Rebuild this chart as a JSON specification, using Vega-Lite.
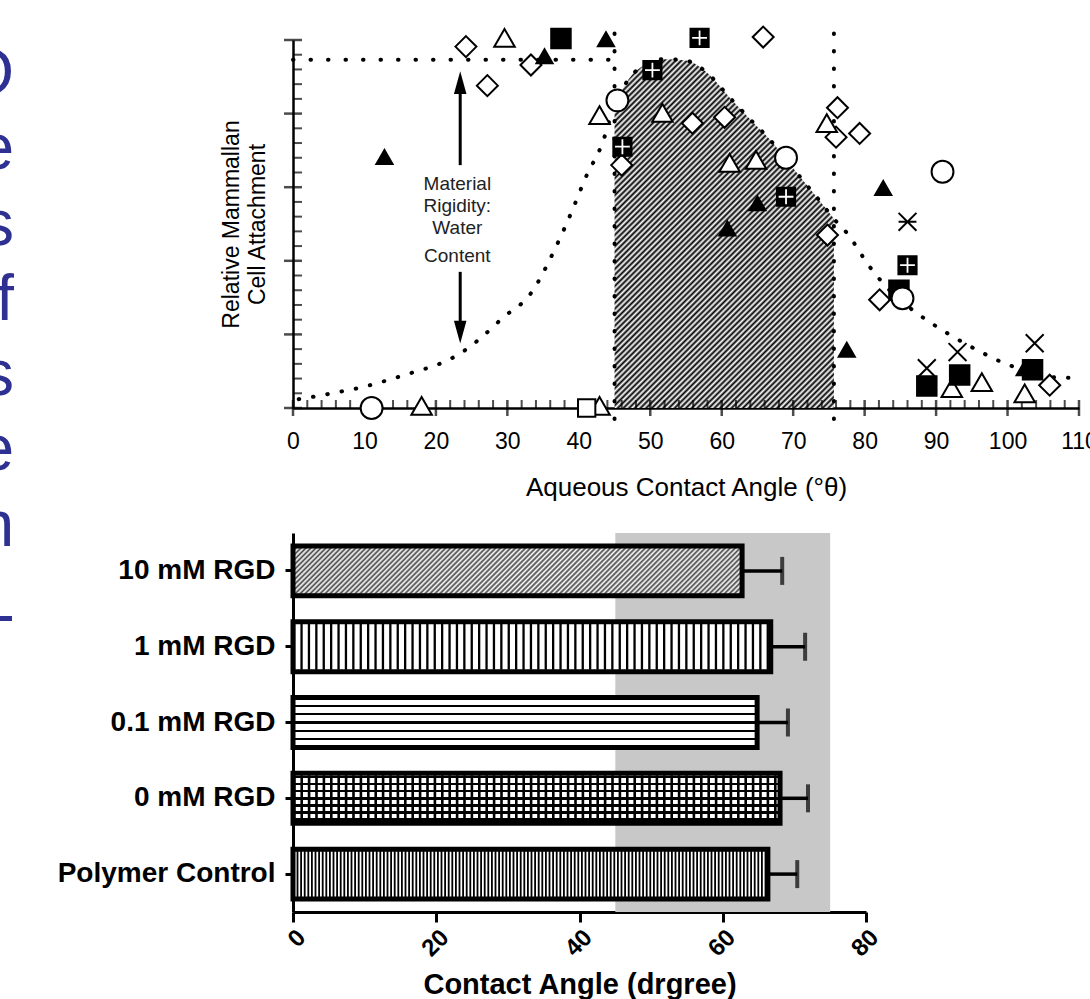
{
"$schema":"https://vega.github.io/schema/vega-lite/v6.json",
"background":"white",
"padding":{"left":0,"top":20,"right":0,"bottom":0},
"config":{"view":{"stroke":null},"font":"Liberation Sans","axis":{"domainColor":"#000","tickColor":"#000","labelColor":"#000","titleColor":"#000","grid":false}},
"datasets":{
"letters":[{"row":1,"ch":"O"},{"row":2,"ch":"e"},{"row":3,"ch":"s"},{"row":4,"ch":"f"},{"row":5,"ch":"s"},{"row":6,"ch":"e"},{"row":7,"ch":"n"},{"row":8,"ch":"L"}],
"curve":[{"x":0.8,"y":0.12},{"x":2.7,"y":0.15},{"x":6,"y":0.21},{"x":10,"y":0.29},{"x":14,"y":0.4},{"x":17,"y":0.49},{"x":20.5,"y":0.6},{"x":23.7,"y":0.76},{"x":26.5,"y":0.97},{"x":29.3,"y":1.22},{"x":33.3,"y":1.56},{"x":36.8,"y":2.19},{"x":39.1,"y":2.69},{"x":41,"y":3.14},{"x":43.3,"y":3.6},{"x":45,"y":4.12},{"x":47,"y":4.47},{"x":49,"y":4.65},{"x":52,"y":4.74},{"x":55,"y":4.72},{"x":58,"y":4.55},{"x":61,"y":4.23},{"x":64,"y":3.92},{"x":66.7,"y":3.65},{"x":69,"y":3.38},{"x":71.3,"y":3.1},{"x":73.5,"y":2.84},{"x":75.7,"y":2.57},{"x":77.5,"y":2.38},{"x":80.7,"y":1.92},{"x":84,"y":1.55},{"x":87.3,"y":1.29},{"x":91.5,"y":1.02},{"x":95.7,"y":0.79},{"x":100.3,"y":0.58},{"x":104,"y":0.48},{"x":107.3,"y":0.41},{"x":110,"y":0.41}],
"refs":[{"x":0,"x2":45,"y":4.73,"y2":4.73},{"x":45,"x2":45,"y":-0.15,"y2":5.24},{"x":75.7,"x2":75.7,"y":-0.15,"y2":5.24}],
"arrows":[{"x":23.4,"y":4.4,"y2":3.3},{"x":23.4,"y":1.85,"y2":1.05}],
"headsup":[{"x":23.4,"y":4.42}],
"headsdown":[{"x":23.4,"y":1.03}],
"notes":[{"x":23.0,"y":3.04,"t":"Material"},{"x":23.0,"y":2.74,"t":"Rigidity:"},{"x":23.0,"y":2.44,"t":"Water"},{"x":23.0,"y":2.07,"t":"Content"}],
"xmaj":[{"v":0},{"v":10},{"v":20},{"v":30},{"v":40},{"v":50},{"v":60},{"v":70},{"v":80},{"v":90},{"v":100},{"v":110}],
"xmin":[{"v":2},{"v":4},{"v":6},{"v":8},{"v":12},{"v":14},{"v":16},{"v":18},{"v":22},{"v":24},{"v":26},{"v":28},{"v":32},{"v":34},{"v":36},{"v":38},{"v":42},{"v":44},{"v":46},{"v":48},{"v":52},{"v":54},{"v":56},{"v":58},{"v":62},{"v":64},{"v":66},{"v":68},{"v":72},{"v":74},{"v":76},{"v":78},{"v":82},{"v":84},{"v":86},{"v":88},{"v":92},{"v":94},{"v":96},{"v":98},{"v":102},{"v":104},{"v":106},{"v":108}],
"ymaj":[{"v":0},{"v":1},{"v":2},{"v":3},{"v":4},{"v":5}],
"ymin":[{"v":0.2},{"v":0.4},{"v":0.6},{"v":0.8},{"v":1.2},{"v":1.4},{"v":1.6},{"v":1.8},{"v":2.2},{"v":2.4},{"v":2.6},{"v":2.8},{"v":3.2},{"v":3.4},{"v":3.6},{"v":3.8},{"v":4.2},{"v":4.4},{"v":4.6},{"v":4.8}],
"pts":[
{"x":24.2,"y":4.91,"s":"open diamond"},{"x":33.3,"y":4.66,"s":"open diamond"},{"x":27.2,"y":4.38,"s":"open diamond"},{"x":55.9,"y":3.87,"s":"open diamond"},{"x":60.4,"y":3.95,"s":"open diamond"},{"x":65.8,"y":5.04,"s":"open diamond"},{"x":76.2,"y":4.08,"s":"open diamond"},{"x":76.0,"y":3.68,"s":"open diamond"},{"x":79.3,"y":3.73,"s":"open diamond"},{"x":74.8,"y":2.35,"s":"open diamond"},{"x":82.1,"y":1.47,"s":"open diamond"},{"x":105.9,"y":0.31,"s":"open diamond"},{"x":46.0,"y":3.3,"s":"open diamond"},
{"x":29.6,"y":5.03,"s":"open triangle"},{"x":42.9,"y":3.98,"s":"open triangle"},{"x":51.7,"y":4.01,"s":"open triangle"},{"x":61.1,"y":3.33,"s":"open triangle"},{"x":64.8,"y":3.37,"s":"open triangle"},{"x":74.7,"y":3.87,"s":"open triangle"},{"x":92.2,"y":0.27,"s":"open triangle"},{"x":96.4,"y":0.35,"s":"open triangle"},{"x":102.4,"y":0.2,"s":"open triangle"},{"x":18.0,"y":0.03,"s":"open triangle"},{"x":42.9,"y":0.03,"s":"open triangle"},
{"x":35.2,"y":4.78,"s":"filled triangle"},{"x":43.8,"y":5.01,"s":"filled triangle"},{"x":12.8,"y":3.41,"s":"filled triangle"},{"x":65.0,"y":2.78,"s":"filled triangle"},{"x":60.8,"y":2.44,"s":"filled triangle"},{"x":82.6,"y":2.99,"s":"filled triangle"},{"x":77.5,"y":0.79,"s":"filled triangle"},{"x":102.4,"y":0.54,"s":"filled triangle"},
{"x":37.5,"y":5.02,"s":"filled square"},{"x":84.8,"y":1.6,"s":"filled square"},{"x":88.7,"y":0.3,"s":"filled square"},{"x":93.3,"y":0.45,"s":"filled square"},{"x":103.5,"y":0.52,"s":"filled square"},
{"x":56.9,"y":5.03,"s":"crossed square"},{"x":50.3,"y":4.59,"s":"crossed square"},{"x":46.1,"y":3.55,"s":"crossed square"},{"x":69.0,"y":2.87,"s":"crossed square"},{"x":86.0,"y":1.94,"s":"crossed square"},
{"x":11.0,"y":0.0,"s":"open circle"},{"x":90.9,"y":3.21,"s":"open circle"},{"x":45.4,"y":4.18,"s":"open circle"},{"x":69.0,"y":3.4,"s":"open circle"},{"x":85.3,"y":1.49,"s":"open circle"},
{"x":88.7,"y":0.54,"s":"x"},{"x":93.0,"y":0.76,"s":"x"},{"x":103.8,"y":0.88,"s":"x"},
{"x":86.0,"y":2.53,"s":"asterisk"},
{"x":41.1,"y":0.0,"s":"open square"}],
"bars":[{"group":"10 mM RGD","lo":0,"value":62.7,"hi":68.3},{"group":"1 mM RGD","lo":0,"value":66.7,"hi":71.5},{"group":"0.1 mM RGD","lo":0,"value":64.8,"hi":69.1},{"group":"0 mM RGD","lo":0,"value":68.0,"hi":71.9},{"group":"Polymer Control","lo":0,"value":66.3,"hi":70.4}],
"band":[{"lo":45,"hi":75}]
},
"spacing":43,
"hconcat":[
{
"width":14,"height":635,
"data":{"name":"letters"},
"mark":{"type":"text","align":"right","baseline":"alphabetic","fontSize":64,"color":"#2e3192","clip":true},
"encoding":{
"y":{"field":"row","type":"ordinal","scale":{"type":"point","padding":0.717},"axis":null},
"x":{"value":"width"},
"text":{"field":"ch"}
}
},
{
"spacing":33,
"vconcat":[
{
"width":786,"height":368,
"layer":[
{"data":{"name":"curve"},"transform":[{"filter":"datum.x >= 45 && datum.x <= 75.7"}],
"mark":{"type":"area","interpolate":"monotone","stroke":null,"fill":{"gradient":"linear","x1":0,"y1":0,"x2":0.733,"y2":1.168,"stops":[
{"offset":0,"color":"#000"},{"offset":0.005,"color":"#fff"},{"offset":0.01,"color":"#000"},{"offset":0.015,"color":"#fff"},{"offset":0.02,"color":"#000"},{"offset":0.025,"color":"#fff"},{"offset":0.03,"color":"#000"},{"offset":0.035,"color":"#fff"},{"offset":0.04,"color":"#000"},{"offset":0.045,"color":"#fff"},
{"offset":0.05,"color":"#000"},{"offset":0.055,"color":"#fff"},{"offset":0.06,"color":"#000"},{"offset":0.065,"color":"#fff"},{"offset":0.07,"color":"#000"},{"offset":0.075,"color":"#fff"},{"offset":0.08,"color":"#000"},{"offset":0.085,"color":"#fff"},{"offset":0.09,"color":"#000"},{"offset":0.095,"color":"#fff"},
{"offset":0.1,"color":"#000"},{"offset":0.105,"color":"#fff"},{"offset":0.11,"color":"#000"},{"offset":0.115,"color":"#fff"},{"offset":0.12,"color":"#000"},{"offset":0.125,"color":"#fff"},{"offset":0.13,"color":"#000"},{"offset":0.135,"color":"#fff"},{"offset":0.14,"color":"#000"},{"offset":0.145,"color":"#fff"},
{"offset":0.15,"color":"#000"},{"offset":0.155,"color":"#fff"},{"offset":0.16,"color":"#000"},{"offset":0.165,"color":"#fff"},{"offset":0.17,"color":"#000"},{"offset":0.175,"color":"#fff"},{"offset":0.18,"color":"#000"},{"offset":0.185,"color":"#fff"},{"offset":0.19,"color":"#000"},{"offset":0.195,"color":"#fff"},
{"offset":0.2,"color":"#000"},{"offset":0.205,"color":"#fff"},{"offset":0.21,"color":"#000"},{"offset":0.215,"color":"#fff"},{"offset":0.22,"color":"#000"},{"offset":0.225,"color":"#fff"},{"offset":0.23,"color":"#000"},{"offset":0.235,"color":"#fff"},{"offset":0.24,"color":"#000"},{"offset":0.245,"color":"#fff"},
{"offset":0.25,"color":"#000"},{"offset":0.255,"color":"#fff"},{"offset":0.26,"color":"#000"},{"offset":0.265,"color":"#fff"},{"offset":0.27,"color":"#000"},{"offset":0.275,"color":"#fff"},{"offset":0.28,"color":"#000"},{"offset":0.285,"color":"#fff"},{"offset":0.29,"color":"#000"},{"offset":0.295,"color":"#fff"},
{"offset":0.3,"color":"#000"},{"offset":0.305,"color":"#fff"},{"offset":0.31,"color":"#000"},{"offset":0.315,"color":"#fff"},{"offset":0.32,"color":"#000"},{"offset":0.325,"color":"#fff"},{"offset":0.33,"color":"#000"},{"offset":0.335,"color":"#fff"},{"offset":0.34,"color":"#000"},{"offset":0.345,"color":"#fff"},
{"offset":0.35,"color":"#000"},{"offset":0.355,"color":"#fff"},{"offset":0.36,"color":"#000"},{"offset":0.365,"color":"#fff"},{"offset":0.37,"color":"#000"},{"offset":0.375,"color":"#fff"},{"offset":0.38,"color":"#000"},{"offset":0.385,"color":"#fff"},{"offset":0.39,"color":"#000"},{"offset":0.395,"color":"#fff"},
{"offset":0.4,"color":"#000"},{"offset":0.405,"color":"#fff"},{"offset":0.41,"color":"#000"},{"offset":0.415,"color":"#fff"},{"offset":0.42,"color":"#000"},{"offset":0.425,"color":"#fff"},{"offset":0.43,"color":"#000"},{"offset":0.435,"color":"#fff"},{"offset":0.44,"color":"#000"},{"offset":0.445,"color":"#fff"},
{"offset":0.45,"color":"#000"},{"offset":0.455,"color":"#fff"},{"offset":0.46,"color":"#000"},{"offset":0.465,"color":"#fff"},{"offset":0.47,"color":"#000"},{"offset":0.475,"color":"#fff"},{"offset":0.48,"color":"#000"},{"offset":0.485,"color":"#fff"},{"offset":0.49,"color":"#000"},{"offset":0.495,"color":"#fff"},
{"offset":0.5,"color":"#000"},{"offset":0.505,"color":"#fff"},{"offset":0.51,"color":"#000"},{"offset":0.515,"color":"#fff"},{"offset":0.52,"color":"#000"},{"offset":0.525,"color":"#fff"},{"offset":0.53,"color":"#000"},{"offset":0.535,"color":"#fff"},{"offset":0.54,"color":"#000"},{"offset":0.545,"color":"#fff"},
{"offset":0.55,"color":"#000"},{"offset":0.555,"color":"#fff"},{"offset":0.56,"color":"#000"},{"offset":0.565,"color":"#fff"},{"offset":0.57,"color":"#000"},{"offset":0.575,"color":"#fff"},{"offset":0.58,"color":"#000"},{"offset":0.585,"color":"#fff"},{"offset":0.59,"color":"#000"},{"offset":0.595,"color":"#fff"},
{"offset":0.6,"color":"#000"},{"offset":0.605,"color":"#fff"},{"offset":0.61,"color":"#000"},{"offset":0.615,"color":"#fff"},{"offset":0.62,"color":"#000"},{"offset":0.625,"color":"#fff"},{"offset":0.63,"color":"#000"},{"offset":0.635,"color":"#fff"},{"offset":0.64,"color":"#000"},{"offset":0.645,"color":"#fff"},
{"offset":0.65,"color":"#000"},{"offset":0.655,"color":"#fff"},{"offset":0.66,"color":"#000"},{"offset":0.665,"color":"#fff"},{"offset":0.67,"color":"#000"},{"offset":0.675,"color":"#fff"},{"offset":0.68,"color":"#000"},{"offset":0.685,"color":"#fff"},{"offset":0.69,"color":"#000"},{"offset":0.695,"color":"#fff"},
{"offset":0.7,"color":"#000"},{"offset":0.705,"color":"#fff"},{"offset":0.71,"color":"#000"},{"offset":0.715,"color":"#fff"},{"offset":0.72,"color":"#000"},{"offset":0.725,"color":"#fff"},{"offset":0.73,"color":"#000"},{"offset":0.735,"color":"#fff"},{"offset":0.74,"color":"#000"},{"offset":0.745,"color":"#fff"},
{"offset":0.75,"color":"#000"},{"offset":0.755,"color":"#fff"},{"offset":0.76,"color":"#000"},{"offset":0.765,"color":"#fff"},{"offset":0.77,"color":"#000"},{"offset":0.775,"color":"#fff"},{"offset":0.78,"color":"#000"},{"offset":0.785,"color":"#fff"},{"offset":0.79,"color":"#000"},{"offset":0.795,"color":"#fff"},
{"offset":0.8,"color":"#000"},{"offset":0.805,"color":"#fff"},{"offset":0.81,"color":"#000"},{"offset":0.815,"color":"#fff"},{"offset":0.82,"color":"#000"},{"offset":0.825,"color":"#fff"},{"offset":0.83,"color":"#000"},{"offset":0.835,"color":"#fff"},{"offset":0.84,"color":"#000"},{"offset":0.845,"color":"#fff"},
{"offset":0.85,"color":"#000"},{"offset":0.855,"color":"#fff"},{"offset":0.86,"color":"#000"},{"offset":0.865,"color":"#fff"},{"offset":0.87,"color":"#000"},{"offset":0.875,"color":"#fff"},{"offset":0.88,"color":"#000"},{"offset":0.885,"color":"#fff"},{"offset":0.89,"color":"#000"},{"offset":0.895,"color":"#fff"},
{"offset":0.9,"color":"#000"},{"offset":0.905,"color":"#fff"},{"offset":0.91,"color":"#000"},{"offset":0.915,"color":"#fff"},{"offset":0.92,"color":"#000"},{"offset":0.925,"color":"#fff"},{"offset":0.93,"color":"#000"},{"offset":0.935,"color":"#fff"},{"offset":0.94,"color":"#000"},{"offset":0.945,"color":"#fff"},
{"offset":0.95,"color":"#000"},{"offset":0.955,"color":"#fff"},{"offset":0.96,"color":"#000"},{"offset":0.965,"color":"#fff"},{"offset":0.97,"color":"#000"},{"offset":0.975,"color":"#fff"},{"offset":0.98,"color":"#000"},{"offset":0.985,"color":"#fff"},{"offset":0.99,"color":"#000"},{"offset":0.995,"color":"#fff"},
{"offset":1,"color":"#000"}]}},
"encoding":{
"x":{"field":"x","type":"quantitative","scale":{"domain":[0,110],"nice":false},"title":"Aqueous Contact Angle (°θ)","axis":{"values":[0,10,20,30,40,50,60,70,80,90,100,110],"ticks":false,"tickSize":0,"labelFontSize":23,"labelPadding":22,"labelFlush":false,"labelOverlap":false,"labelBound":false,"domainWidth":2.5,"titleFontSize":26,"titleFontWeight":"normal","titlePadding":21}},
"y":{"field":"y","type":"quantitative","scale":{"domain":[0,5],"nice":false},"title":["Relative Mammallan","Cell Attachment"],"axis":{"labels":false,"ticks":false,"tickSize":0,"domainWidth":2.5,"titleFontSize":23,"titleFontWeight":"normal","titlePadding":24,"titleLineHeight":26}}
}},
{"data":{"name":"refs"},"mark":{"type":"rule","strokeDash":[0.5,17],"strokeCap":"round","strokeWidth":4,"color":"#000"},
"encoding":{"x":{"field":"x","type":"quantitative"},"x2":{"field":"x2"},"y":{"field":"y","type":"quantitative"},"y2":{"field":"y2"}}},
{"data":{"name":"curve"},"mark":{"type":"line","interpolate":"monotone","strokeDash":[0.5,14],"strokeCap":"round","strokeWidth":4,"color":"#000"},
"encoding":{"x":{"field":"x","type":"quantitative"},"y":{"field":"y","type":"quantitative"}}},
{"data":{"name":"arrows"},"mark":{"type":"rule","strokeWidth":3,"color":"#000"},
"encoding":{"x":{"field":"x","type":"quantitative"},"y":{"field":"y","type":"quantitative"},"y2":{"field":"y2"}}},
{"data":{"name":"headsup"},"mark":{"type":"point","filled":true,"color":"#000","opacity":1,"size":520,"shape":"M0,-1L0.55,1L-0.55,1Z"},
"encoding":{"x":{"field":"x","type":"quantitative"},"y":{"field":"y","type":"quantitative"}}},
{"data":{"name":"headsdown"},"mark":{"type":"point","filled":true,"color":"#000","opacity":1,"size":520,"shape":"M0,1L0.55,-1L-0.55,-1Z"},
"encoding":{"x":{"field":"x","type":"quantitative"},"y":{"field":"y","type":"quantitative"}}},
{"data":{"name":"xmaj"},"mark":{"type":"tick","orient":"vertical","size":16,"thickness":2.5,"color":"#000"},
"encoding":{"x":{"field":"v","type":"quantitative"},"y":{"datum":0,"type":"quantitative"}}},
{"data":{"name":"xmin"},"mark":{"type":"tick","orient":"vertical","size":8,"thickness":2,"yOffset":-4,"color":"#000"},
"encoding":{"x":{"field":"v","type":"quantitative"},"y":{"datum":0,"type":"quantitative"}}},
{"data":{"name":"ymaj"},"mark":{"type":"tick","orient":"horizontal","size":18,"thickness":2.5,"color":"#000"},
"encoding":{"y":{"field":"v","type":"quantitative"},"x":{"datum":0,"type":"quantitative"}}},
{"data":{"name":"ymin"},"mark":{"type":"tick","orient":"horizontal","size":9,"thickness":2,"xOffset":4.5,"color":"#000"},
"encoding":{"y":{"field":"v","type":"quantitative"},"x":{"datum":0,"type":"quantitative"}}},
{"data":{"name":"pts"},"mark":{"type":"point","filled":true,"stroke":"#000","strokeWidth":2,"opacity":1},
"encoding":{"x":{"field":"x","type":"quantitative"},"y":{"field":"y","type":"quantitative"},
"shape":{"field":"s","type":"nominal","legend":null,"scale":{"domain":["open diamond","open triangle","filled triangle","filled square","crossed square","open circle","x","asterisk","open square"],"range":["diamond","triangle-up","triangle-up","square","square","circle","M-1,-1L1,1M-1,1L1,-1","M-1,-1L1,1M-1,1L1,-1M-1,0L1,0","square"]}},
"fill":{"field":"s","type":"nominal","legend":null,"scale":{"domain":["open diamond","open triangle","filled triangle","filled square","crossed square","open circle","x","asterisk","open square"],"range":["#fff","#fff","#000","#000","#000","#fff","#000","#000","#fff"]}},
"size":{"field":"s","type":"nominal","legend":null,"scale":{"type":"ordinal","domain":["open diamond","open triangle","filled triangle","filled square","crossed square","open circle","x","asterisk","open square"],"range":[440,420,260,380,330,480,320,320,300]}}}},
{"data":{"name":"pts"},"transform":[{"filter":"datum.s === 'crossed square'"}],"mark":{"type":"point","filled":false,"shape":"M-1,0L1,0M0,-1L0,1","size":220,"stroke":"#fff","strokeWidth":1.8,"opacity":1},
"encoding":{"x":{"field":"x","type":"quantitative"},"y":{"field":"y","type":"quantitative"}}},
{"data":{"name":"notes"},"mark":{"type":"text","fontSize":19,"color":"#222","align":"center","baseline":"middle"},
"encoding":{"x":{"field":"x","type":"quantitative"},"y":{"field":"y","type":"quantitative"},"text":{"field":"t"}}}
]
},
{
"width":573,"height":379,
"layer":[
{"data":{"name":"band"},"mark":{"type":"rect","color":"#c8c8c8"},
"encoding":{"x":{"field":"lo","type":"quantitative"},"x2":{"field":"hi"},"y":{"value":0},"y2":{"value":"height"}}},
{"data":{"name":"bars"},"mark":{"type":"bar","fill":"#fff","stroke":null},
"encoding":{
"y":{"field":"group","type":"nominal","title":null,"scale":{"domain":["10 mM RGD","1 mM RGD","0.1 mM RGD","0 mM RGD","Polymer Control"],"paddingInner":0.342,"paddingOuter":0.171},"axis":{"labelFontSize":28,"labelFontWeight":"bold","labelPadding":10,"labelLimit":400,"tickSize":8,"tickWidth":3,"domainWidth":3}},
"x":{"field":"value","type":"quantitative","title":"Contact Angle (drgree)","scale":{"domain":[0,80],"nice":false},"axis":{"values":[0,20,40,60,80],"labelAngle":-45,"labelFontSize":24,"labelFontWeight":"bold","tickSize":10,"tickWidth":3,"domainWidth":3,"titleFontSize":29,"titleFontWeight":"bold","titlePadding":10,"labelPadding":3}}}},
{"data":{"name":"bars"},"transform":[{"filter":"datum.group === '10 mM RGD'"}],
"mark":{"type":"bar","stroke":null,"fill":{"gradient":"linear","x1":0,"y1":0,"x2":1.098,"y2":0.122,"stops":[
{"offset":0,"color":"#444"},{"offset":0.005,"color":"#fff"},{"offset":0.01,"color":"#444"},{"offset":0.015,"color":"#fff"},{"offset":0.02,"color":"#444"},{"offset":0.025,"color":"#fff"},{"offset":0.03,"color":"#444"},{"offset":0.035,"color":"#fff"},{"offset":0.04,"color":"#444"},{"offset":0.045,"color":"#fff"},
{"offset":0.05,"color":"#444"},{"offset":0.055,"color":"#fff"},{"offset":0.06,"color":"#444"},{"offset":0.065,"color":"#fff"},{"offset":0.07,"color":"#444"},{"offset":0.075,"color":"#fff"},{"offset":0.08,"color":"#444"},{"offset":0.085,"color":"#fff"},{"offset":0.09,"color":"#444"},{"offset":0.095,"color":"#fff"},
{"offset":0.1,"color":"#444"},{"offset":0.105,"color":"#fff"},{"offset":0.11,"color":"#444"},{"offset":0.115,"color":"#fff"},{"offset":0.12,"color":"#444"},{"offset":0.125,"color":"#fff"},{"offset":0.13,"color":"#444"},{"offset":0.135,"color":"#fff"},{"offset":0.14,"color":"#444"},{"offset":0.145,"color":"#fff"},
{"offset":0.15,"color":"#444"},{"offset":0.155,"color":"#fff"},{"offset":0.16,"color":"#444"},{"offset":0.165,"color":"#fff"},{"offset":0.17,"color":"#444"},{"offset":0.175,"color":"#fff"},{"offset":0.18,"color":"#444"},{"offset":0.185,"color":"#fff"},{"offset":0.19,"color":"#444"},{"offset":0.195,"color":"#fff"},
{"offset":0.2,"color":"#444"},{"offset":0.205,"color":"#fff"},{"offset":0.21,"color":"#444"},{"offset":0.215,"color":"#fff"},{"offset":0.22,"color":"#444"},{"offset":0.225,"color":"#fff"},{"offset":0.23,"color":"#444"},{"offset":0.235,"color":"#fff"},{"offset":0.24,"color":"#444"},{"offset":0.245,"color":"#fff"},
{"offset":0.25,"color":"#444"},{"offset":0.255,"color":"#fff"},{"offset":0.26,"color":"#444"},{"offset":0.265,"color":"#fff"},{"offset":0.27,"color":"#444"},{"offset":0.275,"color":"#fff"},{"offset":0.28,"color":"#444"},{"offset":0.285,"color":"#fff"},{"offset":0.29,"color":"#444"},{"offset":0.295,"color":"#fff"},
{"offset":0.3,"color":"#444"},{"offset":0.305,"color":"#fff"},{"offset":0.31,"color":"#444"},{"offset":0.315,"color":"#fff"},{"offset":0.32,"color":"#444"},{"offset":0.325,"color":"#fff"},{"offset":0.33,"color":"#444"},{"offset":0.335,"color":"#fff"},{"offset":0.34,"color":"#444"},{"offset":0.345,"color":"#fff"},
{"offset":0.35,"color":"#444"},{"offset":0.355,"color":"#fff"},{"offset":0.36,"color":"#444"},{"offset":0.365,"color":"#fff"},{"offset":0.37,"color":"#444"},{"offset":0.375,"color":"#fff"},{"offset":0.38,"color":"#444"},{"offset":0.385,"color":"#fff"},{"offset":0.39,"color":"#444"},{"offset":0.395,"color":"#fff"},
{"offset":0.4,"color":"#444"},{"offset":0.405,"color":"#fff"},{"offset":0.41,"color":"#444"},{"offset":0.415,"color":"#fff"},{"offset":0.42,"color":"#444"},{"offset":0.425,"color":"#fff"},{"offset":0.43,"color":"#444"},{"offset":0.435,"color":"#fff"},{"offset":0.44,"color":"#444"},{"offset":0.445,"color":"#fff"},
{"offset":0.45,"color":"#444"},{"offset":0.455,"color":"#fff"},{"offset":0.46,"color":"#444"},{"offset":0.465,"color":"#fff"},{"offset":0.47,"color":"#444"},{"offset":0.475,"color":"#fff"},{"offset":0.48,"color":"#444"},{"offset":0.485,"color":"#fff"},{"offset":0.49,"color":"#444"},{"offset":0.495,"color":"#fff"},
{"offset":0.5,"color":"#444"},{"offset":0.505,"color":"#fff"},{"offset":0.51,"color":"#444"},{"offset":0.515,"color":"#fff"},{"offset":0.52,"color":"#444"},{"offset":0.525,"color":"#fff"},{"offset":0.53,"color":"#444"},{"offset":0.535,"color":"#fff"},{"offset":0.54,"color":"#444"},{"offset":0.545,"color":"#fff"},
{"offset":0.55,"color":"#444"},{"offset":0.555,"color":"#fff"},{"offset":0.56,"color":"#444"},{"offset":0.565,"color":"#fff"},{"offset":0.57,"color":"#444"},{"offset":0.575,"color":"#fff"},{"offset":0.58,"color":"#444"},{"offset":0.585,"color":"#fff"},{"offset":0.59,"color":"#444"},{"offset":0.595,"color":"#fff"},
{"offset":0.6,"color":"#444"},{"offset":0.605,"color":"#fff"},{"offset":0.61,"color":"#444"},{"offset":0.615,"color":"#fff"},{"offset":0.62,"color":"#444"},{"offset":0.625,"color":"#fff"},{"offset":0.63,"color":"#444"},{"offset":0.635,"color":"#fff"},{"offset":0.64,"color":"#444"},{"offset":0.645,"color":"#fff"},
{"offset":0.65,"color":"#444"},{"offset":0.655,"color":"#fff"},{"offset":0.66,"color":"#444"},{"offset":0.665,"color":"#fff"},{"offset":0.67,"color":"#444"},{"offset":0.675,"color":"#fff"},{"offset":0.68,"color":"#444"},{"offset":0.685,"color":"#fff"},{"offset":0.69,"color":"#444"},{"offset":0.695,"color":"#fff"},
{"offset":0.7,"color":"#444"},{"offset":0.705,"color":"#fff"},{"offset":0.71,"color":"#444"},{"offset":0.715,"color":"#fff"},{"offset":0.72,"color":"#444"},{"offset":0.725,"color":"#fff"},{"offset":0.73,"color":"#444"},{"offset":0.735,"color":"#fff"},{"offset":0.74,"color":"#444"},{"offset":0.745,"color":"#fff"},
{"offset":0.75,"color":"#444"},{"offset":0.755,"color":"#fff"},{"offset":0.76,"color":"#444"},{"offset":0.765,"color":"#fff"},{"offset":0.77,"color":"#444"},{"offset":0.775,"color":"#fff"},{"offset":0.78,"color":"#444"},{"offset":0.785,"color":"#fff"},{"offset":0.79,"color":"#444"},{"offset":0.795,"color":"#fff"},
{"offset":0.8,"color":"#444"},{"offset":0.805,"color":"#fff"},{"offset":0.81,"color":"#444"},{"offset":0.815,"color":"#fff"},{"offset":0.82,"color":"#444"},{"offset":0.825,"color":"#fff"},{"offset":0.83,"color":"#444"},{"offset":0.835,"color":"#fff"},{"offset":0.84,"color":"#444"},{"offset":0.845,"color":"#fff"},
{"offset":0.85,"color":"#444"},{"offset":0.855,"color":"#fff"},{"offset":0.86,"color":"#444"},{"offset":0.865,"color":"#fff"},{"offset":0.87,"color":"#444"},{"offset":0.875,"color":"#fff"},{"offset":0.88,"color":"#444"},{"offset":0.885,"color":"#fff"},{"offset":0.89,"color":"#444"},{"offset":0.895,"color":"#fff"},
{"offset":0.9,"color":"#444"},{"offset":0.905,"color":"#fff"},{"offset":0.91,"color":"#444"},{"offset":0.915,"color":"#fff"},{"offset":0.92,"color":"#444"},{"offset":0.925,"color":"#fff"},{"offset":0.93,"color":"#444"},{"offset":0.935,"color":"#fff"},{"offset":0.94,"color":"#444"},{"offset":0.945,"color":"#fff"},
{"offset":0.95,"color":"#444"},{"offset":0.955,"color":"#fff"},{"offset":0.96,"color":"#444"},{"offset":0.965,"color":"#fff"},{"offset":0.97,"color":"#444"},{"offset":0.975,"color":"#fff"},{"offset":0.98,"color":"#444"},{"offset":0.985,"color":"#fff"},{"offset":0.99,"color":"#444"},{"offset":0.995,"color":"#fff"},
{"offset":1,"color":"#444"}]}},
"encoding":{"y":{"field":"group","type":"nominal"},"x":{"field":"value","type":"quantitative"}}},
{"data":{"name":"bars"},"transform":[{"filter":"datum.group === '1 mM RGD'"}],"mark":{"type":"rule","strokeWidth":46,"strokeDash":[2.3,5.1],"strokeCap":"butt","color":"#000"},
"encoding":{"y":{"field":"group","type":"nominal"},"x":{"field":"lo","type":"quantitative"},"x2":{"field":"value"}}},
{"data":{"name":"bars"},"transform":[{"filter":"datum.group === '0.1 mM RGD'"}],
"mark":{"type":"bar","stroke":null,"fill":{"gradient":"linear","x1":0,"y1":0,"x2":0,"y2":1,"stops":[
{"offset":0,"color":"#fff"},{"offset":0.142,"color":"#fff"},{"offset":0.142,"color":"#000"},{"offset":0.192,"color":"#000"},{"offset":0.192,"color":"#fff"},
{"offset":0.308,"color":"#fff"},{"offset":0.308,"color":"#000"},{"offset":0.358,"color":"#000"},{"offset":0.358,"color":"#fff"},
{"offset":0.475,"color":"#fff"},{"offset":0.475,"color":"#000"},{"offset":0.525,"color":"#000"},{"offset":0.525,"color":"#fff"},
{"offset":0.642,"color":"#fff"},{"offset":0.642,"color":"#000"},{"offset":0.692,"color":"#000"},{"offset":0.692,"color":"#fff"},
{"offset":0.808,"color":"#fff"},{"offset":0.808,"color":"#000"},{"offset":0.858,"color":"#000"},{"offset":0.858,"color":"#fff"},
{"offset":1,"color":"#fff"}]}},
"encoding":{"y":{"field":"group","type":"nominal"},"x":{"field":"value","type":"quantitative"}}},
{"data":{"name":"bars"},"transform":[{"filter":"datum.group === '0 mM RGD'"}],"mark":{"type":"rule","strokeWidth":46,"strokeDash":[2.6,4.8],"strokeCap":"butt","color":"#000"},
"encoding":{"y":{"field":"group","type":"nominal"},"x":{"field":"lo","type":"quantitative"},"x2":{"field":"value"}}},
{"data":{"name":"bars"},"transform":[{"filter":"datum.group === '0 mM RGD'"}],
"mark":{"type":"bar","stroke":null,"fill":{"gradient":"linear","x1":0,"y1":0,"x2":0,"y2":1,"stops":[
{"offset":0,"color":"rgba(0,0,0,0)"},{"offset":0.045,"color":"rgba(0,0,0,0)"},{"offset":0.045,"color":"#000"},{"offset":0.097,"color":"#000"},{"offset":0.097,"color":"rgba(0,0,0,0)"},
{"offset":0.188,"color":"rgba(0,0,0,0)"},{"offset":0.188,"color":"#000"},{"offset":0.24,"color":"#000"},{"offset":0.24,"color":"rgba(0,0,0,0)"},
{"offset":0.331,"color":"rgba(0,0,0,0)"},{"offset":0.331,"color":"#000"},{"offset":0.383,"color":"#000"},{"offset":0.383,"color":"rgba(0,0,0,0)"},
{"offset":0.474,"color":"rgba(0,0,0,0)"},{"offset":0.474,"color":"#000"},{"offset":0.526,"color":"#000"},{"offset":0.526,"color":"rgba(0,0,0,0)"},
{"offset":0.617,"color":"rgba(0,0,0,0)"},{"offset":0.617,"color":"#000"},{"offset":0.669,"color":"#000"},{"offset":0.669,"color":"rgba(0,0,0,0)"},
{"offset":0.76,"color":"rgba(0,0,0,0)"},{"offset":0.76,"color":"#000"},{"offset":0.812,"color":"#000"},{"offset":0.812,"color":"rgba(0,0,0,0)"},
{"offset":0.903,"color":"rgba(0,0,0,0)"},{"offset":0.903,"color":"#000"},{"offset":0.955,"color":"#000"},{"offset":0.955,"color":"rgba(0,0,0,0)"},
{"offset":1,"color":"rgba(0,0,0,0)"}]}},
"encoding":{"y":{"field":"group","type":"nominal"},"x":{"field":"value","type":"quantitative"}}},
{"data":{"name":"bars"},"transform":[{"filter":"datum.group === 'Polymer Control'"}],"mark":{"type":"rule","strokeWidth":46,"strokeDash":[1.8,1.8],"strokeCap":"butt","color":"#000"},
"encoding":{"y":{"field":"group","type":"nominal"},"x":{"field":"lo","type":"quantitative"},"x2":{"field":"value"}}},
{"data":{"name":"bars"},"mark":{"type":"bar","filled":false,"stroke":"#000","strokeWidth":5},
"encoding":{"y":{"field":"group","type":"nominal"},"x":{"field":"value","type":"quantitative"}}},
{"data":{"name":"bars"},"mark":{"type":"rule","strokeWidth":3.5,"color":"#000"},
"encoding":{"y":{"field":"group","type":"nominal"},"x":{"field":"value","type":"quantitative"},"x2":{"field":"hi"}}},
{"data":{"name":"bars"},"mark":{"type":"tick","orient":"vertical","size":28,"thickness":4,"color":"#000"},
"encoding":{"y":{"field":"group","type":"nominal"},"x":{"field":"hi","type":"quantitative"}}}
]
}
]
}
]
}
